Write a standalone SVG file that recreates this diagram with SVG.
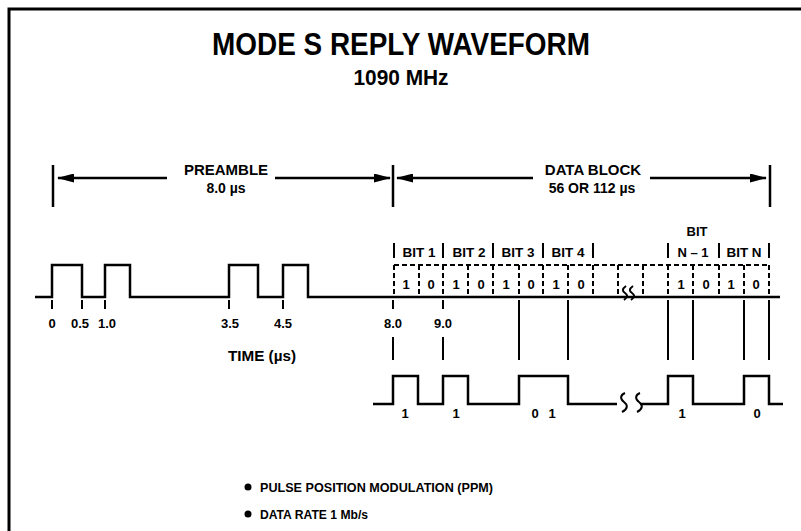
<svg xmlns="http://www.w3.org/2000/svg" width="801" height="531" viewBox="0 0 801 531">
<style>
text{font-family:"Liberation Sans",Arial,Helvetica,sans-serif;font-weight:bold;fill:#000}
.c{text-anchor:middle}
.w{stroke:#000;stroke-width:2.5;fill:none;stroke-linejoin:miter}
.tk{stroke:#000;stroke-width:2;fill:none}
.ds{stroke:#000;stroke-width:2;fill:none;stroke-dasharray:5 3}
.ar{stroke:#000;stroke-width:2.5;fill:none}
.sq{stroke:#000;stroke-width:2;fill:none}
.lb{font-size:13px}
</style>
<defs>
<marker id="ah" viewBox="0 0 17 9" markerWidth="17" markerHeight="9" refX="16" refY="4.5" orient="auto-start-reverse" markerUnits="userSpaceOnUse">
<path d="M0,0 L17,4.5 L0,9 z" fill="#000"/>
</marker>
</defs>
<rect width="801" height="531" fill="#fff"/>
<path d="M9,531 V9 H801" fill="none" stroke="#000" stroke-width="3"/>

<g id="title">
<text class="c" x="401" y="55" font-size="32" textLength="378" lengthAdjust="spacingAndGlyphs">MODE S REPLY WAVEFORM</text>
<text class="c" x="401" y="85" font-size="22" textLength="95" lengthAdjust="spacingAndGlyphs">1090 MHz</text>
</g>

<g id="preamble-label">
<text class="c" x="226" y="175" font-size="15">PREAMBLE</text>
<text class="c" x="226" y="193" font-size="14">8.0 µs</text>
</g>

<g id="datablock-label">
<text class="c" x="593" y="175" font-size="15">DATA BLOCK</text>
<text class="c" x="592" y="193" font-size="14">56 OR 112 µs</text>
</g>

<g id="connectors">
<line class="ar" x1="53" y1="165" x2="53" y2="207"/>
<line class="ar" x1="58" y1="178" x2="167" y2="178" marker-start="url(#ah)"/>
<line class="ar" x1="275" y1="178" x2="390" y2="178" marker-end="url(#ah)"/>
<line class="ar" x1="393" y1="165" x2="393" y2="207"/>
<line class="ar" x1="397" y1="178" x2="533" y2="178" marker-start="url(#ah)"/>
<line class="ar" x1="650" y1="178" x2="766" y2="178" marker-end="url(#ah)"/>
<line class="ar" x1="770" y1="165" x2="770" y2="207"/>
<!-- short ticks under baseline -->
<path class="tk" d="M52,300V309 M82,300V309 M105,300V309 M229,300V309 M283,300V309 M393,300V309 M443,300V309"/>
<!-- lines down to data waveform -->
<path class="tk" d="M393,337V360 M443,337V360 M519,300V360 M568,300V360 M668,300V360 M693,300V360 M744,300V360 M769,300V360"/>
</g>

<g id="preamble-waveform">
<path class="w" d="M35,297 H52 V265 H82 V297 H105 V265 H130 V297 H229 V265 H258 V297 H283 V265 H308 V297 H780"/>
<path class="sq" d="M626,286 c-4,3 -4,5 -1,7 c3,2 3,4 -1,7 M633,286 c-4,3 -4,5 -1,7 c3,2 3,4 -1,7"/>
</g>

<g id="time-labels">
<text class="c lb" x="52" y="328">0</text>
<text class="c lb" x="80" y="328">0.5</text>
<text class="c lb" x="107" y="328">1.0</text>
<text class="c lb" x="230" y="328">3.5</text>
<text class="c lb" x="283" y="328">4.5</text>
<text class="c lb" x="393" y="328">8.0</text>
<text class="c lb" x="443" y="328">9.0</text>
<text class="c" x="262" y="361" font-size="15" textLength="68" lengthAdjust="spacingAndGlyphs">TIME (µs)</text>
</g>

<g id="bit-labels">
<path class="tk" d="M394,243V258 M443,243V258 M493,243V258 M543,243V258 M593,243V258 M668,243V258 M719,243V258 M769,243V258"/>
<text class="c lb" x="419" y="257" textLength="33" lengthAdjust="spacingAndGlyphs">BIT 1</text>
<text class="c lb" x="469" y="257" textLength="33" lengthAdjust="spacingAndGlyphs">BIT 2</text>
<text class="c lb" x="518" y="257" textLength="33" lengthAdjust="spacingAndGlyphs">BIT 3</text>
<text class="c lb" x="568" y="257" textLength="33" lengthAdjust="spacingAndGlyphs">BIT 4</text>
<text class="c lb" x="697" y="236">BIT</text>
<text class="c lb" x="693" y="257">N – 1</text>
<text class="c lb" x="744" y="257" textLength="35" lengthAdjust="spacingAndGlyphs">BIT N</text>
</g>

<g id="bit-cells">
<path class="ds" d="M394,265H769"/>
<path class="ds" d="M394,265V297 M419,265V297 M443,265V297 M468,265V297 M493,265V297 M519,265V297 M543,265V297 M568,265V297 M593,265V297 M618,265V297 M643,265V297 M668,265V297 M693,265V297 M719,265V297 M744,265V297 M769,265V297"/>
<text class="c lb" x="406" y="289">1</text>
<text class="c lb" x="431" y="289">0</text>
<text class="c lb" x="456" y="289">1</text>
<text class="c lb" x="481" y="289">0</text>
<text class="c lb" x="506" y="289">1</text>
<text class="c lb" x="531" y="289">0</text>
<text class="c lb" x="556" y="289">1</text>
<text class="c lb" x="581" y="289">0</text>
<text class="c lb" x="681" y="289">1</text>
<text class="c lb" x="706" y="289">0</text>
<text class="c lb" x="731" y="289">1</text>
<text class="c lb" x="756" y="289">0</text>
</g>

<g id="data-waveform">
<path class="w" d="M373,404 H393 V376 H418 V404 H443 V376 H468 V404 H519 V376 H568 V404 H617"/>
<path class="w" d="M640,404 H668 V376 H693 V404 H744 V376 H769 V404 H783"/>
<path class="sq" d="M625,393 c-5,2 -5,6 -1,9 c4,3 4,7 -2,10 M640,393 c-5,2 -5,6 -1,9 c4,3 4,7 -2,10"/>
<text class="c lb" x="405" y="418">1</text>
<text class="c lb" x="456" y="418">1</text>
<text class="c lb" x="535" y="418">0</text>
<text class="c lb" x="552" y="418">1</text>
<text class="c lb" x="682" y="418">1</text>
<text class="c lb" x="757" y="418">0</text>
</g>

<g id="bullets">
<circle cx="248" cy="487" r="3.5" fill="#000"/>
<text x="260" y="492" font-size="13" textLength="233" lengthAdjust="spacingAndGlyphs">PULSE POSITION MODULATION (PPM)</text>
<circle cx="248" cy="514" r="3.5" fill="#000"/>
<text x="260" y="519" font-size="13" textLength="108" lengthAdjust="spacingAndGlyphs">DATA RATE 1 Mb/s</text>
</g>
</svg>
